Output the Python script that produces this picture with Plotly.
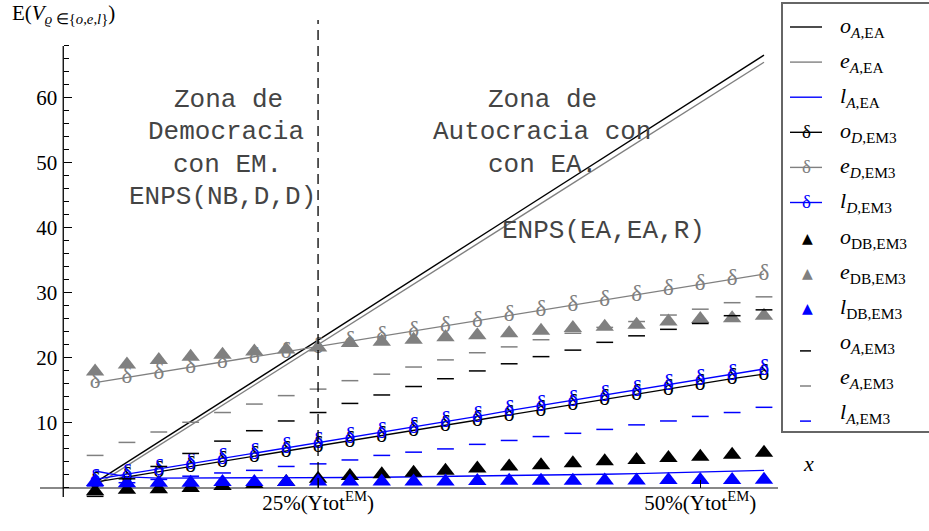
import plotly.graph_objects as go

# ---------------- data ----------------
x_vals = [5, 6, 7, 8, 9, 10, 11, 12, 13, 14, 15, 16, 17, 18, 19, 20, 21, 22, 23, 24, 25, 26]
x_line_ends = [5, 26]

o_A_EA = [0.8, 66.6]
e_A_EA = [0.3, 65.5]
l_A_EA = [2.6, 1.7, 1.5, 1.5, 1.5, 1.5, 1.5, 1.55, 1.6, 1.65, 1.7, 1.75, 1.8, 1.85,
          1.9, 2.0, 2.1, 2.2, 2.3, 2.4, 2.55, 2.7]

o_D_EM3 = [0.9, 1.7, 2.5, 3.3, 4.1, 4.8, 5.6, 6.4, 7.2, 8.0, 8.8, 9.6, 10.4, 11.2,
           12.0, 12.8, 13.6, 14.4, 15.2, 16.0, 16.8, 17.5]
e_D_EM3 = [16.2, 17.0, 17.7, 18.5, 19.3, 20.1, 20.9, 21.7, 22.5, 23.3, 24.1, 24.9,
           25.7, 26.5, 27.3, 28.1, 28.9, 29.7, 30.5, 31.3, 32.1, 32.9]
l_D_EM3 = [1.3, 2.1, 2.9, 3.8, 4.6, 5.4, 6.2, 7.0, 7.8, 8.6, 9.4, 10.2, 11.0, 11.9,
           12.7, 13.5, 14.3, 15.1, 15.9, 16.7, 17.5, 18.3]

o_DB_EM3 = [-0.5, -0.3, -0.2, 0.0, 0.3, 0.6, 0.9, 1.4, 1.85, 2.1, 2.35, 2.65, 3.0, 3.3,
            3.5, 3.8, 4.1, 4.3, 4.6, 4.8, 5.1, 5.4]
e_DB_EM3 = [17.9, 19.0, 19.7, 20.2, 20.5, 21.0, 21.3, 21.6, 22.3, 22.5, 22.8, 23.2,
            23.5, 23.8, 24.2, 24.6, 24.8, 25.1, 25.6, 26.0, 26.1, 26.5]
l_DB_EM3 = [0.9, 0.7, 0.8, 0.8, 0.9, 0.9, 0.9, 1.0, 1.0, 1.0, 1.0, 1.0, 1.05, 1.1,
            1.1, 1.1, 1.15, 1.15, 1.2, 1.2, 1.2, 1.25]

o_A_EM3 = [-1.3, 1.4, 3.3, 5.3, 7.2, 8.8, 10.3, 11.6, 13.0, 14.3, 15.6, 16.8, 18.0,
           19.1, 20.2, 21.2, 22.4, 23.4, 24.4, 25.3, 26.5, 27.4]
e_A_EM3 = [5.0, 7.0, 8.6, 10.1, 11.6, 12.9, 14.2, 15.2, 16.5, 17.5, 18.6, 19.7, 20.8,
           21.7, 22.8, 23.8, 24.7, 25.6, 26.6, 27.5, 28.5, 29.4]
l_A_EM3 = [0.3, 0.8, 1.3, 1.8, 2.3, 2.7, 3.3, 3.7, 4.3, 5.0, 5.5, 6.0, 6.7, 7.3, 7.9,
           8.4, 9.0, 9.7, 10.3, 11.0, 11.6, 12.4]

y_major = [10, 20, 30, 40, 50, 60]
y_minor = [0, 2, 4, 6, 8, 12, 14, 16, 18, 22, 24, 26, 28, 32, 34, 36, 38, 42, 44, 46,
           48, 52, 54, 56, 58, 62, 64, 66, 68]
x_ticks = [12, 24]
x_ticktext = ["25%(Ytot<sup>EM</sup>)", "50%(Ytot<sup>EM</sup>)"]
boundary_x = 12
y_axis_x = 4
y_axis_span = [-1.4, 68]

legend_labels = [
    "<i>o</i><sub><i>A</i>,EA</sub>",
    "<i>e</i><sub><i>A</i>,EA</sub>",
    "<i>l</i><sub><i>A</i>,EA</sub>",
    "<i>o</i><sub><i>D</i>,EM3</sub>",
    "<i>e</i><sub><i>D</i>,EM3</sub>",
    "<i>l</i><sub><i>D</i>,EM3</sub>",
    "<i>o</i><sub>DB,EM3</sub>",
    "<i>e</i><sub>DB,EM3</sub>",
    "<i>l</i><sub>DB,EM3</sub>",
    "<i>o</i><sub><i>A</i>,EM3</sub>",
    "<i>e</i><sub><i>A</i>,EM3</sub>",
    "<i>l</i><sub><i>A</i>,EM3</sub>",
]

# ---------------- style ----------------
BLACK = "#000000"
GRAY = "#808080"
BLUE = "#0000ff"
SERIF = "Liberation Serif, Times New Roman, serif"
MONO = "Liberation Mono, Courier New, monospace"

W_PX, H_PX = 929, 531
ML, MR, MT, MB = 40, 151, 20, 34
PW = W_PX - ML - MR
PH = H_PX - MT - MB
XR = [3.27, 26.44]
YR = [-1.4, 72.0]


def px(xp):
    return (xp - ML) / PW


def py(yp):
    return (H_PX - MB - yp) / PH


fig = go.Figure()

# A,EA lines
fig.add_trace(go.Scatter(x=x_line_ends, y=o_A_EA, mode="lines",
                         line=dict(color=BLACK, width=1.4)))
fig.add_trace(go.Scatter(x=x_line_ends, y=e_A_EA, mode="lines",
                         line=dict(color=GRAY, width=1.4)))
fig.add_trace(go.Scatter(x=x_vals, y=l_A_EA, mode="lines",
                         line=dict(color=BLUE, width=1.4)))

# D,EM3 lines with delta glyphs
for ys, col in [(o_D_EM3, BLACK), (e_D_EM3, GRAY), (l_D_EM3, BLUE)]:
    fig.add_trace(go.Scatter(
        x=x_vals, y=ys, mode="lines+text", text=["δ"] * len(x_vals),
        textposition="middle center",
        textfont=dict(family=SERIF, size=23, color=col),
        line=dict(color=col, width=1.3), cliponaxis=False))

# DB,EM3 triangles
for ys, col in [(o_DB_EM3, BLACK), (e_DB_EM3, GRAY), (l_DB_EM3, BLUE)]:
    fig.add_trace(go.Scatter(
        x=x_vals, y=ys, mode="markers",
        marker=dict(symbol="triangle-up", size=16, color=col, line=dict(width=0)),
        cliponaxis=False))

# A,EM3 dashes
for ys, col in [(o_A_EM3, BLACK), (e_A_EM3, GRAY), (l_A_EM3, BLUE)]:
    fig.add_trace(go.Scatter(
        x=x_vals, y=ys, mode="markers",
        marker=dict(symbol="line-ew", size=12, color=col,
                    line=dict(width=1.5, color=col)),
        cliponaxis=False))

shapes = []
# y axis line
shapes.append(dict(type="line", xref="x", yref="y", x0=y_axis_x, x1=y_axis_x,
                   y0=y_axis_span[0], y1=y_axis_span[1],
                   line=dict(color=BLACK, width=1.3), layer="above"))
# dashed boundary
shapes.append(dict(type="line", xref="x", yref="y", x0=boundary_x, x1=boundary_x,
                   y0=0, y1=YR[1], line=dict(color=BLACK, width=1.3, dash="10px,6px"),
                   layer="above"))

# legend box
shapes.append(dict(type="rect", xref="paper", yref="paper",
                   x0=px(782), x1=px(940), y0=py(432), y1=py(3),
                   line=dict(color="#666666", width=2), fillcolor="white", layer="above"))

annotations = []
row_y = [27 + 35.1 * i for i in range(12)]
sym_cols = [BLACK, GRAY, BLUE] * 4
for i, (ry, lab) in enumerate(zip(row_y, legend_labels)):
    col = sym_cols[i]
    kind = i // 3
    if kind in (0, 1):
        shapes.append(dict(type="line", xref="paper", yref="paper",
                           x0=px(790), x1=px(822), y0=py(ry), y1=py(ry),
                           line=dict(color=col, width=1.4), layer="above"))
    if kind == 1:
        annotations.append(dict(xref="paper", yref="paper", x=px(806), y=py(ry - 1),
                                text="δ", showarrow=False, xanchor="center",
                                yanchor="middle",
                                font=dict(family=SERIF, size=19, color=col)))
    if kind == 2:
        annotations.append(dict(xref="paper", yref="paper", x=px(807), y=py(ry),
                                text="▲", showarrow=False, xanchor="center",
                                yanchor="middle",
                                font=dict(family="DejaVu Sans", size=14, color=col)))
    if kind == 3:
        shapes.append(dict(type="line", xref="paper", yref="paper",
                           x0=px(800), x1=px(811), y0=py(ry + 8), y1=py(ry + 8),
                           line=dict(color=col, width=1.5), layer="above"))
    annotations.append(dict(xref="paper", yref="paper", x=px(838), y=py(ry),
                            text=lab, showarrow=False, xanchor="left", yanchor="middle",
                            font=dict(family=SERIF, size=22, color=BLACK)))

# zone texts
zone_txt = [
    ("Zona de", 228, 100), ("Democracia", 226, 132), ("con EM.", 227, 165),
    ("ENPS(NB,D,D)", 222, 197),
    ("Zona de", 542, 100), ("Autocracia con", 542, 132), ("con EA.", 542, 165),
    ("ENPS(EA,EA,R)", 603, 231),
]
for t, xp_, yp_ in zone_txt:
    annotations.append(dict(xref="paper", yref="paper", x=px(xp_), y=py(yp_), text=t,
                            showarrow=False, xanchor="center", yanchor="middle",
                            font=dict(family=MONO, size=26, color="#444444")))

# axis titles
annotations.append(dict(xref="paper", yref="paper", x=px(10), y=py(14),
                        text="E(<i>V</i><sub><i>ϱ</i> ∈{<i>o</i>,<i>e</i>,<i>l</i>}</sub>)",
                        showarrow=False, xanchor="left", yanchor="middle",
                        font=dict(family=SERIF, size=21, color=BLACK)))
annotations.append(dict(xref="paper", yref="paper", x=px(808), y=py(463), text="<i>x</i>",
                        showarrow=False, xanchor="center", yanchor="middle",
                        font=dict(family=SERIF, size=22, color=BLACK)))

fig.update_layout(
    width=W_PX, height=H_PX, autosize=False,
    margin=dict(l=ML, r=MR, t=MT, b=MB, pad=0),
    paper_bgcolor="white", plot_bgcolor="white",
    showlegend=False,
    shapes=shapes, annotations=annotations,
    font=dict(family=SERIF, color=BLACK),
    xaxis=dict(range=XR, showgrid=False, zeroline=False, showline=False,
               anchor="free", position=(0 - YR[0]) / (YR[1] - YR[0]),
               tickmode="array", tickvals=x_ticks, ticktext=x_ticktext,
               ticks="inside", ticklen=8, tickcolor=BLACK, tickwidth=1,
               tickfont=dict(family=SERIF, size=21, color=BLACK)),
    yaxis=dict(range=YR, showgrid=False, zeroline=True, zerolinecolor="#888888",
               zerolinewidth=1.8, showline=False,
               anchor="free", position=(y_axis_x - XR[0]) / (XR[1] - XR[0]),
               tickmode="array", tickvals=y_major,
               ticks="inside", ticklen=8, tickcolor=BLACK, tickwidth=1,
               ticklabelstandoff=6,
               minor=dict(tickmode="array", tickvals=y_minor, ticks="inside",
                          ticklen=5, tickcolor=BLACK, tickwidth=1),
               tickfont=dict(family=SERIF, size=21, color=BLACK)),
)

fig.write_html("out.html", config={"displayModeBar": False},
               post_script="document.body.style.margin='0px';document.body.style.overflow='hidden';")
